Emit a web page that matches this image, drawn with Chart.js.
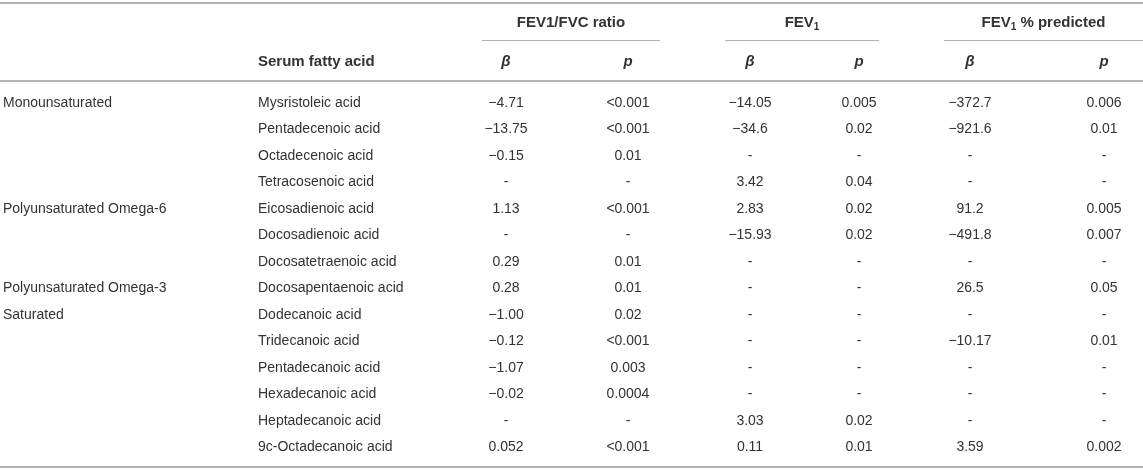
<!DOCTYPE html>
<html>
<head>
<meta charset="utf-8">
<script src="https://cdn.jsdelivr.net/npm/chart.js@4.4.1/dist/chart.umd.min.js"></script>
<style>
  html, body { margin: 0; padding: 0; background: #fff; }
  #wrap { width: 1143px; height: 471px; position: relative; }
</style>
</head>
<body>
<div id="wrap"><canvas id="tableChart"></canvas></div>
<script>
// table contents
const fattyAcids = [
  'Mysristoleic acid', 'Pentadecenoic acid', 'Octadecenoic acid', 'Tetracosenoic acid',
  'Eicosadienoic acid', 'Docosadienoic acid', 'Docosatetraenoic acid', 'Docosapentaenoic acid',
  'Dodecanoic acid', 'Tridecanoic acid', 'Pentadecanoic acid', 'Hexadecanoic acid',
  'Heptadecanoic acid', '9c-Octadecanoic acid'
];
const acidClasses = [
  'Monounsaturated', '', '', '', 'Polyunsaturated Omega-6', '', '', 'Polyunsaturated Omega-3',
  'Saturated', '', '', '', '', ''
];
const ratioBeta = ['−4.71', '−13.75', '−0.15', '-', '1.13', '-', '0.29', '0.28', '−1.00', '−0.12', '−1.07', '−0.02', '-', '0.052'];
const ratioP    = ['<0.001', '<0.001', '0.01', '-', '<0.001', '-', '0.01', '0.01', '0.02', '<0.001', '0.003', '0.0004', '-', '<0.001'];
const fev1Beta  = ['−14.05', '−34.6', '-', '3.42', '2.83', '−15.93', '-', '-', '-', '-', '-', '-', '3.03', '0.11'];
const fev1P     = ['0.005', '0.02', '-', '0.04', '0.02', '0.02', '-', '-', '-', '-', '-', '-', '0.02', '0.01'];
const predBeta  = ['−372.7', '−921.6', '-', '-', '91.2', '−491.8', '-', '26.5', '-', '−10.17', '-', '-', '-', '3.59'];
const predP     = ['0.006', '0.01', '-', '-', '0.005', '0.007', '-', '0.05', '-', '0.01', '-', '-', '-', '0.002'];
const valueColumns = [ratioBeta, ratioP, fev1Beta, fev1P, predBeta, predP];
const columnHeads = ['β', 'p', 'β', 'p', 'β', 'p'];

// layout (x in scale units, y offsets in px)
const colCenters = [506, 628, 750, 859, 970, 1104];
const groupSpans = [[482, 660], [725, 879], [944, 1143]];
const classX = 3;
const acidX = 258;
const rules = { top: 3, groupLine: 40, head: 81, bottom: 467 };
const headY = { group: 23, sub: 62 };

const FONT = '"Liberation Sans", Arial, Helvetica, sans-serif';
const TEXT = '#333333';
const RULE = '#b3b3b3';

function richWidth(ctx, parts) {
  let w = 0;
  parts.forEach(function (p) { ctx.font = p.f; w += ctx.measureText(p.t).width; });
  return w;
}
function drawRich(ctx, parts, cx, cy) {
  let xPos = cx - richWidth(ctx, parts) / 2;
  ctx.textAlign = 'left';
  parts.forEach(function (p) {
    ctx.font = p.f;
    ctx.fillText(p.t, xPos, cy + (p.dy || 0));
    xPos += ctx.measureText(p.t).width;
  });
}

const tableText = {
  id: 'tableText',
  afterDraw(chart) {
    const ctx = chart.ctx;
    const xs = chart.scales.x;
    const ys = chart.scales.y;
    const left = xs.getPixelForValue(0);
    const right = xs.getPixelForValue(1143);
    ctx.save();

    // horizontal rules
    ctx.strokeStyle = RULE;
    ctx.lineWidth = 2;
    [rules.top, rules.head, rules.bottom].forEach(function (yy) {
      ctx.beginPath(); ctx.moveTo(left, yy); ctx.lineTo(right, yy); ctx.stroke();
    });
    ctx.lineWidth = 1;
    groupSpans.forEach(function (s) {
      ctx.beginPath();
      ctx.moveTo(xs.getPixelForValue(s[0]), rules.groupLine + 0.5);
      ctx.lineTo(xs.getPixelForValue(s[1]), rules.groupLine + 0.5);
      ctx.stroke();
    });

    ctx.fillStyle = TEXT;
    ctx.textBaseline = 'middle';
    const bold = 'bold 15px ' + FONT;
    const boldSub = 'bold 10px ' + FONT;
    const groups = [
      [{ t: 'FEV1/FVC ratio', f: bold }],
      [{ t: 'FEV', f: bold }, { t: '1', f: boldSub, dy: 4 }],
      [{ t: 'FEV', f: bold }, { t: '1', f: boldSub, dy: 4 }, { t: ' % predicted', f: bold }]
    ];
    groups.forEach(function (parts, i) {
      const c = (groupSpans[i][0] + groupSpans[i][1]) / 2;
      drawRich(ctx, parts, xs.getPixelForValue(c), headY.group);
    });

    // sub header
    ctx.font = bold;
    ctx.textAlign = 'left';
    ctx.fillText('Serum fatty acid', xs.getPixelForValue(acidX), headY.sub);
    ctx.font = 'italic bold 15px ' + FONT;
    ctx.textAlign = 'center';
    columnHeads.forEach(function (h, i) {
      ctx.fillText(h, xs.getPixelForValue(colCenters[i]), headY.sub);
    });

    // body cells
    ctx.font = '14px ' + FONT;
    fattyAcids.forEach(function (acid, r) {
      const yy = ys.getPixelForValue(r);
      ctx.textAlign = 'left';
      if (acidClasses[r]) ctx.fillText(acidClasses[r], xs.getPixelForValue(classX), yy);
      ctx.fillText(acid, xs.getPixelForValue(acidX), yy);
      ctx.textAlign = 'center';
      valueColumns.forEach(function (col, c) {
        ctx.fillText(col[r], xs.getPixelForValue(colCenters[c]), yy);
      });
    });
    ctx.restore();
  }
};

const ctx = document.getElementById('tableChart').getContext('2d');
window.tableChart = new Chart(ctx, {
  type: 'scatter',
  data: {
    labels: fattyAcids,
    datasets: [{ data: [] }]
  },
  options: {
    responsive: true,
    maintainAspectRatio: false,
    animation: false,
    events: [],
    layout: { padding: { top: 103, bottom: 23.5, left: 0, right: 0 } },
    plugins: { legend: { display: false }, tooltip: { enabled: false } },
    scales: {
      x: { type: 'linear', min: 0, max: 1143, display: false },
      y: { type: 'category', labels: fattyAcids, offset: false, display: false }
    }
  },
  plugins: [tableText]
});
</script>
</body>
</html>
